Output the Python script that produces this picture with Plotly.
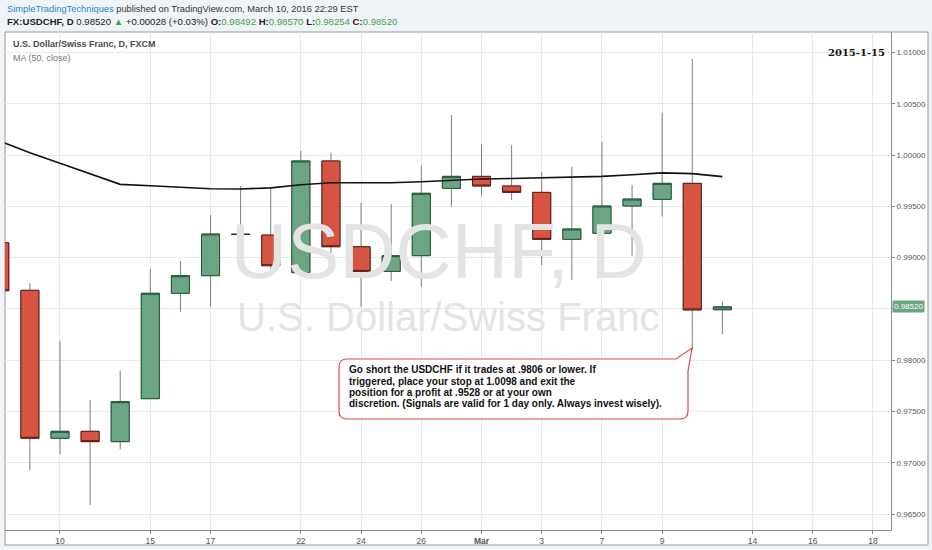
import pandas as pd
import plotly.graph_objects as go

# ---------------- data ----------------
dates = ["2016-02-08", "2016-02-09", "2016-02-10", "2016-02-11", "2016-02-12",
         "2016-02-15", "2016-02-16", "2016-02-17", "2016-02-18", "2016-02-19",
         "2016-02-22", "2016-02-23", "2016-02-24", "2016-02-25", "2016-02-26",
         "2016-02-29", "2016-03-01", "2016-03-02", "2016-03-03", "2016-03-04",
         "2016-03-07", "2016-03-08", "2016-03-09", "2016-03-10", "2016-03-11"]
opens = [0.99145, 0.98681, 0.97239, 0.97307, 0.97206,
         0.97625, 0.98652, 0.98824, 0.99229, 0.99220,
         0.98853, 0.99942, 0.99106, 0.98866, 0.99019,
         0.99675, 0.99792, 0.99698, 0.99636, 0.99178,
         0.99237, 0.99503, 0.99568, 0.99724, 0.98492]
highs = [0.99200, 0.98750, 0.98187, 0.97612, 0.97898,
         0.98889, 0.98967, 0.99415, 0.99698, 0.99681,
         1.00042, 1.00022, 0.99535, 0.99522, 0.99896,
         1.00390, 1.00104, 1.00097, 0.99837, 0.99886,
         1.00130, 0.99708, 1.00412, 1.00936, 0.98570]
lows = [0.98600, 0.96930, 0.97083, 0.96589, 0.97132,
        0.97620, 0.98473, 0.98521, 0.99042, 0.98837,
        0.98850, 0.98954, 0.98521, 0.98772, 0.98716,
        0.99496, 0.99610, 0.99561, 0.98928, 0.98782,
        0.99230, 0.99019, 0.99399, 0.98100, 0.98254]
closes = [0.98677, 0.97239, 0.97307, 0.97206, 0.97596,
          0.98652, 0.98824, 0.99230, 0.99225, 0.98921,
          0.99942, 0.99106, 0.98866, 0.99019, 0.99627,
          0.99792, 0.99698, 0.99636, 0.99178, 0.99279,
          0.99503, 0.99571, 0.99724, 0.98490, 0.98520]
ma50 = [1.00136, 1.00023, 0.99919, 0.99817, 0.99714,
        0.99700, 0.99683, 0.99671, 0.99669, 0.99680,
        0.99710, 0.99730, 0.99730, 0.99729, 0.99740,
        0.99754, 0.99766, 0.99771, 0.99776, 0.99783,
        0.99792, 0.99807, 0.99826, 0.99819, 0.99789]

x_tick_dates = ["2016-02-10", "2016-02-15", "2016-02-17", "2016-02-22", "2016-02-24",
                "2016-02-26", "2016-03-01", "2016-03-03", "2016-03-07", "2016-03-09",
                "2016-03-14", "2016-03-16", "2016-03-18"]
x_tick_text = ["10", "15", "17", "22", "24", "26", "<b>Mar</b>", "3", "7", "9", "14", "16", "18"]
y_ticks = [0.965, 0.970, 0.975, 0.980, 0.985, 0.990, 0.995, 1.000, 1.005, 1.010]
last_price = 0.98520

callout_lines = ["Go short the USDCHF if it trades at .9806 or lower. If",
                 "triggered, place your stop at 1.0098 and exit the",
                 "position for a profit at .9528 or at your own",
                 "discretion. (Signals are valid for 1 day only. Always invest wisely)."]

# ---------------- styling ----------------
UP_FILL, UP_LINE = "#6ba583", "#225437"
DN_FILL, DN_LINE = "#d75442", "#5b1a13"
WICK = "#7d7d80"
W, H = 932, 550
L, R, T, B = 5, 891, 32, 530


def px(x):
    return (x - L) / (R - L)


def py(y):
    return (B - y) / (B - T)


body_hi = [max(o, c) for o, c in zip(opens, closes)]
body_lo = [min(o, c) for o, c in zip(opens, closes)]
# the last-price badge covers the tick label next to it
y_tick_text = ["" if abs(v - last_price) < 0.001 else f"{v:.5f}" for v in y_ticks]

fig = go.Figure()

# watermark (drawn first so candles sit on top)
fig.add_trace(go.Scatter(x=["2016-02-26 14:00"], y=[0.98996], mode="text",
                         text=["USDCHF, D"], textposition="middle center",
                         textfont=dict(family="Liberation Sans", size=78, color="#e4e4e4"),
                         hoverinfo="skip", showlegend=False))
fig.add_trace(go.Scatter(x=["2016-02-28 21:30"], y=[0.98385], mode="text",
                         text=["U.S. Dollar/Swiss Franc"], textposition="middle center",
                         textfont=dict(family="Liberation Sans", size=40, color="#e4e4e4"),
                         hoverinfo="skip", showlegend=False))

# wicks
fig.add_trace(go.Candlestick(x=dates, open=opens, high=highs, low=lows, close=closes,
                             increasing=dict(line=dict(color=WICK, width=1), fillcolor=UP_FILL),
                             decreasing=dict(line=dict(color=WICK, width=1), fillcolor=DN_FILL),
                             hoverinfo="skip", showlegend=False))
# bodies
fig.add_trace(go.Candlestick(x=dates, open=opens, high=body_hi, low=body_lo, close=closes,
                             increasing=dict(line=dict(color=UP_LINE, width=1), fillcolor=UP_FILL),
                             decreasing=dict(line=dict(color=DN_LINE, width=1), fillcolor=DN_FILL),
                             showlegend=False))
# MA line
fig.add_trace(go.Scatter(x=dates, y=ma50, mode="lines",
                         line=dict(color="#111111", width=1.6), hoverinfo="skip", showlegend=False))

fridays = pd.date_range("2016-02-05", "2016-03-25", freq="W-FRI") + pd.Timedelta(hours=16)
breaks = [d.strftime("%Y-%m-%d %H:%M") for d in fridays]

fig.update_layout(
    width=W, height=H,
    margin=dict(l=L, r=W - R, t=T, b=H - B),
    paper_bgcolor="#f0f3f7", plot_bgcolor="rgba(0,0,0,0)",
    boxgap=0.4, boxgroupgap=0,
    showlegend=False,
    font=dict(family="Liberation Sans", color="#333"),
    xaxis=dict(type="date", rangeslider=dict(visible=False),
               rangebreaks=[dict(values=breaks, dvalue=2 * 86400000)],
               range=["2016-02-08 04:10", "2016-03-18 14:25"],
               tickmode="array", tickvals=x_tick_dates, ticktext=x_tick_text,
               ticks="outside", ticklen=3, tickcolor="#888",
               tickfont=dict(size=8.5, color="#555"),
               showgrid=True, gridcolor="#e8e8e8", gridwidth=1,
               showline=True, linecolor="#8c8c8c", linewidth=1, zeroline=False),
    yaxis=dict(side="right", range=[0.96345, 1.01199],
               tickmode="array", tickvals=y_ticks, ticktext=y_tick_text,
               ticks="outside", ticklen=3, tickcolor="#888",
               tickfont=dict(size=8, color="#555"),
               showgrid=True, gridcolor="#e8e8e8", gridwidth=1,
               showline=True, linecolor="#8c8c8c", linewidth=1, zeroline=False),
)

# chart frame (white box incl. axis areas)
fig.add_shape(type="rect", xref="paper", yref="paper",
              x0=px(L), x1=px(928), y0=py(545), y1=py(T),
              fillcolor="white", line=dict(color="#9a9a9a", width=1), layer="below")

# callout bubble
x0, x1, y0, y1, r = 339, 688, 359, 419, 8
pts = [("M", x0 + r, y0), ("L", 676, y0), ("L", 692, 348), ("L", x1, 371),
       ("L", x1, y1 - r), ("Q", x1, y1, x1 - r, y1), ("L", x0 + r, y1),
       ("Q", x0, y1, x0, y1 - r), ("L", x0, y0 + r), ("Q", x0, y0, x0 + r, y0)]
path = ""
for p in pts:
    cmd, coords = p[0], p[1:]
    vals = []
    for i in range(0, len(coords), 2):
        vals.append(f"{px(coords[i]):.5f},{py(coords[i + 1]):.5f}")
    path += cmd + " " + " ".join(vals) + " "
path += "Z"
fig.add_shape(type="path", xref="paper", yref="paper", path=path,
              fillcolor="white", line=dict(color="#e8474a", width=1.2), layer="above")

line_y = [369.3, 381.0, 392.0, 403.5]
for txt, yy in zip(callout_lines, line_y):
    fig.add_annotation(xref="paper", yref="paper", x=px(347), y=py(yy),
                       xanchor="left", yanchor="middle", showarrow=False, text=f"<b>{txt}</b>",
                       font=dict(family="Liberation Sans", size=10, color="#111"))

# header
fig.add_annotation(xref="paper", yref="paper", x=px(5), y=py(8.5), xanchor="left", yanchor="middle",
                   showarrow=False,
                   text='<span style="color:#1f8ad0">SimpleTradingTechniques</span>'
                        ' published on TradingView.com, March 10, 2016 22:29 EST',
                   font=dict(family="Liberation Sans", size=9.3, color="#333"))
G = "#38a83e"
fig.add_annotation(xref="paper", yref="paper", x=px(5), y=py(22), xanchor="left", yanchor="middle",
                   showarrow=False,
                   text=(f'<b>FX:USDCHF, D</b> 0.98520 <span style="color:{G}">▲</span> +0.00028 (+0.03%) '
                         f'<b>O:</b><span style="color:{G}">0.98492</span> '
                         f'<b>H:</b><span style="color:{G}">0.98570</span> '
                         f'<b>L:</b><span style="color:{G}">0.98254</span> '
                         f'<b>C:</b><span style="color:{G}">0.98520</span>'),
                   font=dict(family="Liberation Sans Narrow, Liberation Sans", size=9.6, color="#222"))

# legend texts
fig.add_annotation(xref="paper", yref="paper", x=px(11), y=py(44.5), xanchor="left", yanchor="middle",
                   showarrow=False, text="<b>U.S. Dollar/Swiss Franc, D, FXCM</b>",
                   font=dict(family="Liberation Sans", size=9, color="#4a4a4a"))
fig.add_annotation(xref="paper", yref="paper", x=px(11), y=py(58), xanchor="left", yanchor="middle",
                   showarrow=False, text="MA (50, close)",
                   font=dict(family="Liberation Sans", size=9, color="#777"))

# date label
fig.add_annotation(xref="paper", yref="paper", x=px(887), y=py(53), xanchor="right", yanchor="middle",
                   showarrow=False, text="<b>2015-1-15</b>",
                   font=dict(family="DejaVu Serif", size=10, color="#111"))

# last price label
fig.add_annotation(xref="paper", yref="y", x=1, y=last_price, xanchor="left", yanchor="middle",
                   showarrow=False, text=f"{last_price:.5f}", bgcolor=UP_FILL, borderpad=1,
                   xshift=1, font=dict(family="Liberation Sans", size=8, color="white"))

fig.write_html("out.html", config={"displayModeBar": False},
               post_script="document.body.style.margin='0';")
